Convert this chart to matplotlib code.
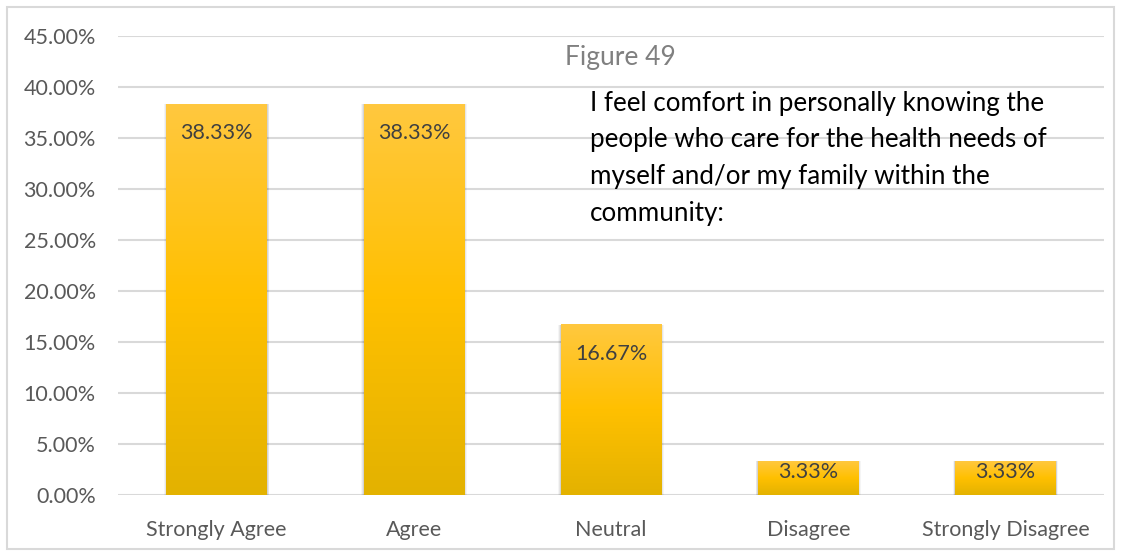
import matplotlib.pyplot as plt
import numpy as np
from matplotlib.colors import LinearSegmentedColormap
from matplotlib.patches import Rectangle
from matplotlib.ticker import FuncFormatter

plt.rcParams['font.family'] = ['Lato', 'DejaVu Sans']

# data
categories = ['Strongly Agree', 'Agree', 'Neutral', 'Disagree', 'Strongly Disagree']
shares = [0.3833, 0.3833, 0.1667, 0.0333, 0.0333]
title = 'Figure 49'
note_lines = ['I feel comfort in personally knowing the',
              'people who care for the health needs of',
              'myself and/or my family within the',
              'community:']

fig = plt.figure(figsize=(11.21, 5.54), dpi=100)
ax = fig.add_axes([0.1053, 0.1065, 0.8797, 0.8285])

# outer chart border
fig.patches.append(Rectangle((7 / 1121, 5 / 554), 1107 / 1121, 542 / 554,
                             transform=fig.transFigure, fill=False,
                             edgecolor='#D9D9D9', linewidth=1.5))

x = np.arange(len(categories))
bar_w = 0.51
bars = ax.bar(x, shares, width=bar_w, color='none', zorder=3)

# vertical gradient fill like Excel
grad = LinearSegmentedColormap.from_list('gold', ['#E3B200', '#FFC000', '#FFC83F'])
gvals = np.linspace(0, 1, 256).reshape(-1, 1)
for b in bars:
    x0, h = b.get_x(), b.get_height()
    # soft shadow on the sides
    for k, a in zip([0.012, 0.008, 0.004], [0.04, 0.06, 0.08]):
        ax.add_patch(Rectangle((x0 - k, 0), bar_w + 2 * k, h,
                               color='#000000', alpha=a, lw=0, zorder=2))
    ax.imshow(gvals, cmap=grad, aspect='auto', origin='lower',
              extent=[x0, x0 + bar_w, 0, h], zorder=3)

for xi, v in zip(x, shares):
    off = -14 if v > 0.1 else -1
    ax.annotate(f'{v:.2%}', (xi, v), xytext=(0, off), textcoords='offset points',
                ha='center', va='top', fontsize=15.5, color='#404040', zorder=4)

ax.set_xlim(-0.5, len(categories) - 0.5)
ax.set_ylim(0, 0.45)
ax.set_yticks(np.arange(0, 0.451, 0.05))
ax.yaxis.set_major_formatter(FuncFormatter(lambda v, p: f'{v:.2%}'))
ax.set_xticks(x)
ax.set_xticklabels(categories)
ax.tick_params(axis='both', length=0, labelsize=15.5, labelcolor='#595959')
ax.tick_params(axis='y', pad=16)
ax.tick_params(axis='x', pad=18)
ax.grid(axis='y', color='#D9D9D9', linewidth=1.5, zorder=0)
ax.set_axisbelow(True)
for s in ax.spines.values():
    s.set_visible(False)

fig.text(620 / 1121, 1 - 57 / 554, title, ha='center', va='center',
         fontsize=19, color='#808080')
for i, line in enumerate(note_lines):
    fig.text(590 / 1121, 1 - (103 + 36.7 * i) / 554, line, ha='left',
             va='center', fontsize=18.7, color='#000000')

plt.savefig('out.png', dpi=100)
